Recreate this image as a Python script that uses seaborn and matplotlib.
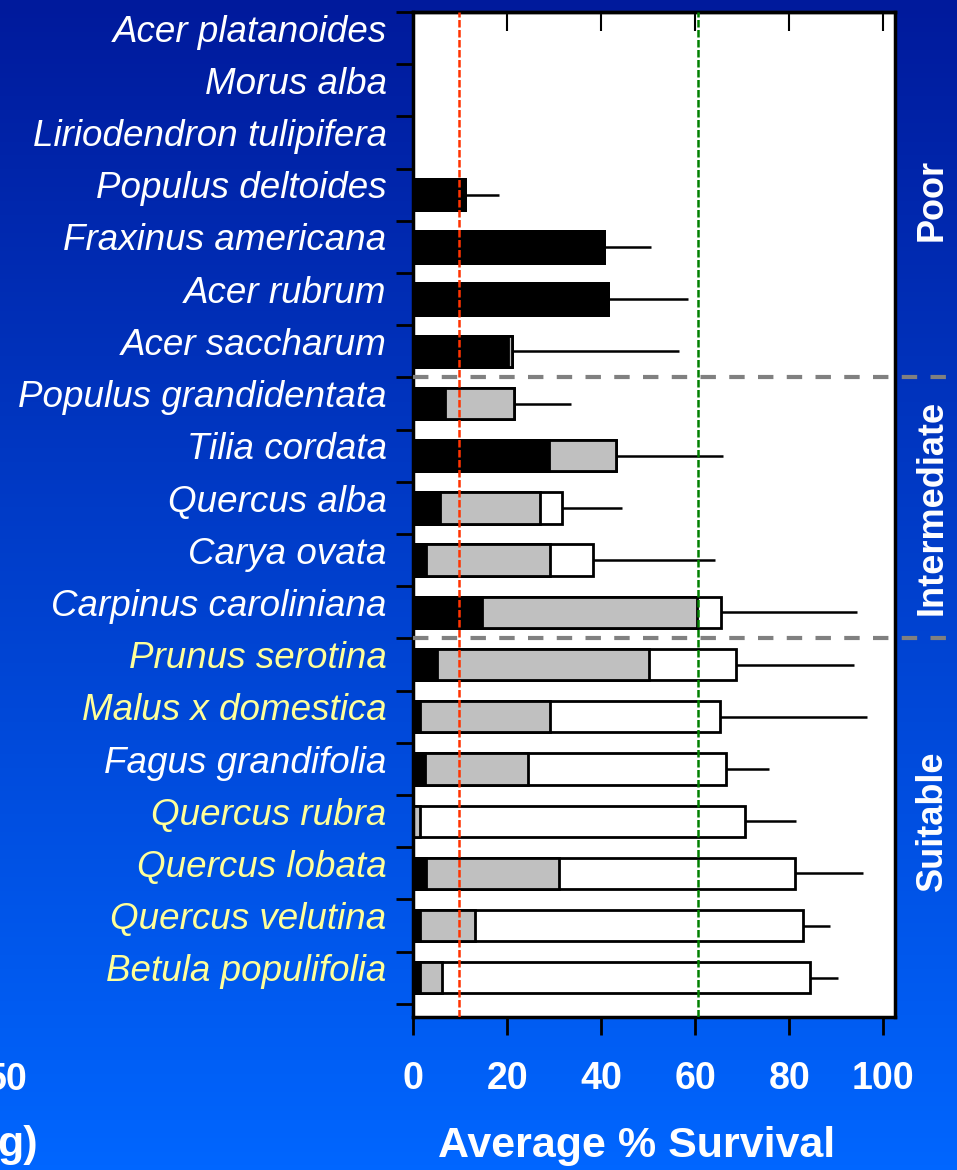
import numpy as np
import pandas as pd
import seaborn as sns
import matplotlib.pyplot as plt
from matplotlib import transforms
from matplotlib.colors import LinearSegmentedColormap

species = ['Acer platanoides', 'Morus alba', 'Liriodendron tulipifera',
           'Populus deltoides', 'Fraxinus americana', 'Acer rubrum',
           'Acer saccharum', 'Populus grandidentata', 'Tilia cordata',
           'Quercus alba', 'Carya ovata', 'Carpinus caroliniana',
           'Prunus serotina', 'Malus x domestica', 'Fagus grandifolia',
           'Quercus rubra', 'Quercus lobata', 'Quercus velutina',
           'Betula populifolia']
yellow_species = ['Prunus serotina', 'Malus x domestica', 'Quercus rubra',
                  'Quercus lobata', 'Quercus velutina', 'Betula populifolia']
# stacked segments (% survival), black / gray / white
black = [0, 0, 0, 11.1, 40.6, 41.5, 20.1, 6.8, 28.9, 5.7, 2.8, 14.7,
         5.1, 1.4, 2.6, 0, 2.8, 1.4, 1.5]
gray = [0, 0, 0, 0, 0, 0, 1.0, 14.7, 14.3, 21.3, 26.3, 45.7,
        45.0, 27.7, 21.8, 1.4, 28.2, 11.7, 4.7]
white = [0, 0, 0, 0, 0, 0, 0, 0, 0, 4.6, 9.1, 5.1,
         18.6, 36.2, 42.2, 69.1, 50.3, 69.8, 78.3]
err = [0, 0, 0, 7.1, 10.0, 16.9, 35.4, 12.0, 22.8, 12.9, 26.1, 29.0,
       25.1, 31.2, 9.1, 10.9, 14.4, 5.8, 5.9]
groups = ['Poor', 'Intermediate', 'Suitable']
group_pos = [3.1, 9.0, 15.0]
group_breaks = [6.5, 11.5]
low_line = 9.7
high_line = 60.5
x_ticks = [0, 20, 40, 60, 80, 100]

sns.set_theme(style='white')
plt.rcParams['font.family'] = ['Liberation Sans', 'DejaVu Sans']

df = pd.DataFrame({'species': species, 'black': black, 'gray': gray,
                   'white': white, 'err': err})
df['gray_end'] = df['black'] + df['gray']
df['total'] = df['gray_end'] + df['white']

fig = plt.figure(figsize=(9.57, 11.7), dpi=100)

# blue gradient background
bg = fig.add_axes([0, 0, 1, 1], zorder=-1)
cmap = LinearSegmentedColormap.from_list('bg', ['#001A9C', '#0066FF'])
bg.imshow(np.linspace(0, 1, 256).reshape(-1, 1), aspect='auto', cmap=cmap,
          extent=[0, 1, 0, 1], origin='upper')
bg.axis('off')

ax = fig.add_axes([0.4316, 0.1308, 0.5037, 0.8590])
ax.set_facecolor('white')

kw = dict(y='species', orient='h', order=species, width=0.6, edgecolor='black',
          linewidth=2, errorbar=None, saturation=1, ax=ax)
sns.barplot(data=df, x='total', color='white', **kw)
sns.barplot(data=df, x='gray_end', color='#C0C0C0', **kw)
sns.barplot(data=df, x='black', color='black', **kw)

has = df['err'] > 0
ax.errorbar(df.loc[has, 'total'], np.flatnonzero(has),
            xerr=[np.zeros(has.sum()), df.loc[has, 'err']],
            fmt='none', ecolor='black', elinewidth=1.8, capsize=0, zorder=1)

ax.axvline(low_line, color='#FF3300', lw=1.8, ls=(0, (3, 1)), zorder=5)
ax.axvline(high_line, color='#008000', lw=1.8, ls=(0, (3, 1)), zorder=5)
for yb in group_breaks:
    ax.axhline(yb, xmin=0, xmax=1.11, color='#808080', lw=3, ls=(0, (3.7, 3.2)),
               clip_on=False, zorder=5)

ax.set_xlim(0, 102.5)
ax.set_ylim(18.75, -0.5)

# labels sit a little above the bar centres
ax.set_yticks(np.arange(len(species)) - 0.19)
ax.set_yticklabels(species, style='italic', fontsize=26.5)
for lbl, name in zip(ax.get_yticklabels(), species):
    lbl.set_color('#FFFF99' if name in yellow_species else 'white')
ax.tick_params(axis='y', which='major', length=0, pad=19)
ax.set_yticks(np.arange(-0.5, len(species), 1), minor=True)
ax.tick_params(axis='y', which='minor', left=True, length=12, width=2,
               color='black', direction='out')

ax.set_xticks(x_ticks)
ax.tick_params(axis='x', bottom=True, length=13, width=2, color='black',
               direction='out', labelsize=27, labelcolor='white', pad=19)
for lbl in ax.get_xticklabels():
    lbl.set_fontweight('bold')
top = ax.secondary_xaxis('top')
top.set_xticks(x_ticks)
top.tick_params(direction='in', length=14, width=1.5, color='black',
                top=True, labeltop=False)

ax.set_ylabel('')
ax.set_xlabel('Average % Survival', fontsize=31, fontweight='bold', color='white')
ax.xaxis.set_label_coords(0.463, -0.108)

for side in ['left', 'right', 'top', 'bottom']:
    ax.spines[side].set_visible(True)
    ax.spines[side].set_color('black')
    ax.spines[side].set_linewidth(2.5)
top.spines['top'].set_linewidth(2.5)

tr = transforms.blended_transform_factory(ax.transAxes, ax.transData)
for name, yp in zip(groups, group_pos):
    ax.text(1.077, yp, name, transform=tr, rotation=90, ha='center',
            va='center', fontsize=26, fontweight='bold', color='white')

# remnants of the neighbouring panel
fig.text(28 / 957, 1 - 1080 / 1170, '50', ha='right', va='center',
         fontsize=27, fontweight='bold', color='white')
fig.text(38 / 957, 1 - 1145 / 1170, 'g)', ha='right', va='center',
         fontsize=31, fontweight='bold', color='white')

fig.savefig('out.png', dpi=100)
